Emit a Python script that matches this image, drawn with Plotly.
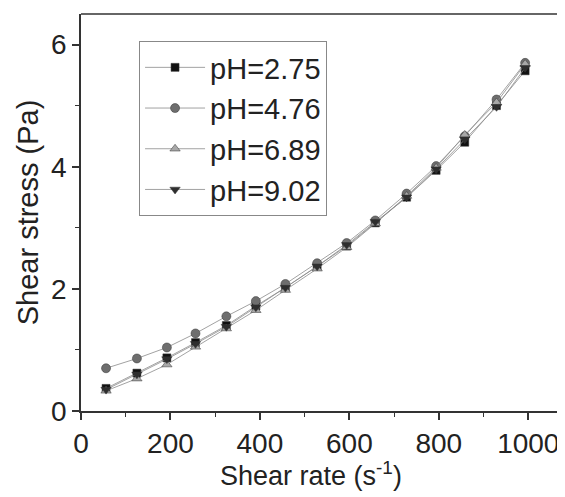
import plotly.graph_objects as go

shear_rate = [56, 125, 192, 256, 325, 391, 457, 528, 594, 658, 728, 794, 858, 929, 993]

stress_pH275 = [0.37, 0.62, 0.87, 1.12, 1.40, 1.72, 2.02, 2.37, 2.70, 3.08, 3.50, 3.94, 4.40, 5.00, 5.57]
stress_pH476 = [0.70, 0.86, 1.04, 1.27, 1.55, 1.80, 2.08, 2.42, 2.75, 3.12, 3.56, 4.01, 4.50, 5.10, 5.70]
stress_pH689 = [0.33, 0.53, 0.76, 1.05, 1.35, 1.65, 1.98, 2.33, 2.68, 3.07, 3.52, 3.98, 4.52, 5.05, 5.68]
stress_pH902 = [0.35, 0.60, 0.85, 1.10, 1.38, 1.70, 2.02, 2.37, 2.72, 3.10, 3.50, 3.96, 4.45, 4.98, 5.62]

series_names = ["pH=2.75", "pH=4.76", "pH=6.89", "pH=9.02"]
series_values = [stress_pH275, stress_pH476, stress_pH689, stress_pH902]

x_tick_values = [0, 200, 400, 600, 800, 1000]
y_tick_values = [0, 2, 4, 6]

symbols = ["square", "circle", "triangle-up", "triangle-down"]
colors = ["#111111", "#6e6e6e", "#a8a8a8", "#2e2e2e"]
sizes = [8, 9, 9, 9]

fig = go.Figure()
for i, (name, vals) in enumerate(zip(series_names, series_values)):
    fig.add_trace(go.Scatter(
        x=shear_rate, y=vals, name=name, mode="lines+markers",
        line=dict(color="#8a8a8a", width=0.8),
        marker=dict(symbol=symbols[i], size=sizes[i], color=colors[i],
                    line=dict(color="#333333", width=0.5)),
        legendgroup=name,
    ))

font_family = "Liberation Sans, Arial, sans-serif"

fig.update_layout(
    width=565, height=497,
    margin=dict(l=73, r=0, t=6, b=94),
    paper_bgcolor="white", plot_bgcolor="white",
    font=dict(family=font_family, size=28, color="#222222"),
    showlegend=True,
    legend=dict(
        x=0.118, y=0.932, xanchor="left", yanchor="top",
        bordercolor="#888888", borderwidth=1, bgcolor="rgba(255,255,255,0)",
        font=dict(family=font_family, size=29, color="#222222"),
        tracegroupgap=0, traceorder="grouped", itemwidth=60,
    ),
    xaxis=dict(
        range=[0, 1100], tickvals=x_tick_values,
        showgrid=False, zeroline=False,
        showline=True, linecolor="#333333", linewidth=1.5,
        ticks="outside", ticklen=7, tickwidth=1.5, tickcolor="#333333",
        minor=dict(ticks="outside", ticklen=4, tickwidth=1.2, tickcolor="#333333", dtick=100, tick0=0, showgrid=False),
        tickfont=dict(size=28),
    ),
    yaxis=dict(
        range=[0, 6.5], tickvals=y_tick_values,
        showgrid=False, zeroline=False,
        showline=True, linecolor="#333333", linewidth=1.5,
        ticks="outside", ticklen=7, tickwidth=1.5, tickcolor="#333333",
        minor=dict(ticks="outside", ticklen=4, tickwidth=1.2, tickcolor="#333333", dtick=1, tick0=0, showgrid=False),
        tickfont=dict(size=28),
        title=dict(text="Shear stress (Pa)", font=dict(size=29), standoff=4),
    ),
    annotations=[dict(
        text="Shear rate (s<sup>-1</sup>)", xref="paper", yref="paper",
        x=0.4675, y=-0.158, xanchor="center", yanchor="middle", showarrow=False,
        font=dict(family=font_family, size=27, color="#222222"),
    )],
    shapes=[dict(type="line", xref="paper", yref="paper", x0=0, x1=1, y0=1, y1=1,
                 line=dict(color="#333333", width=1.5))],
)

fig.write_html("out.html")
